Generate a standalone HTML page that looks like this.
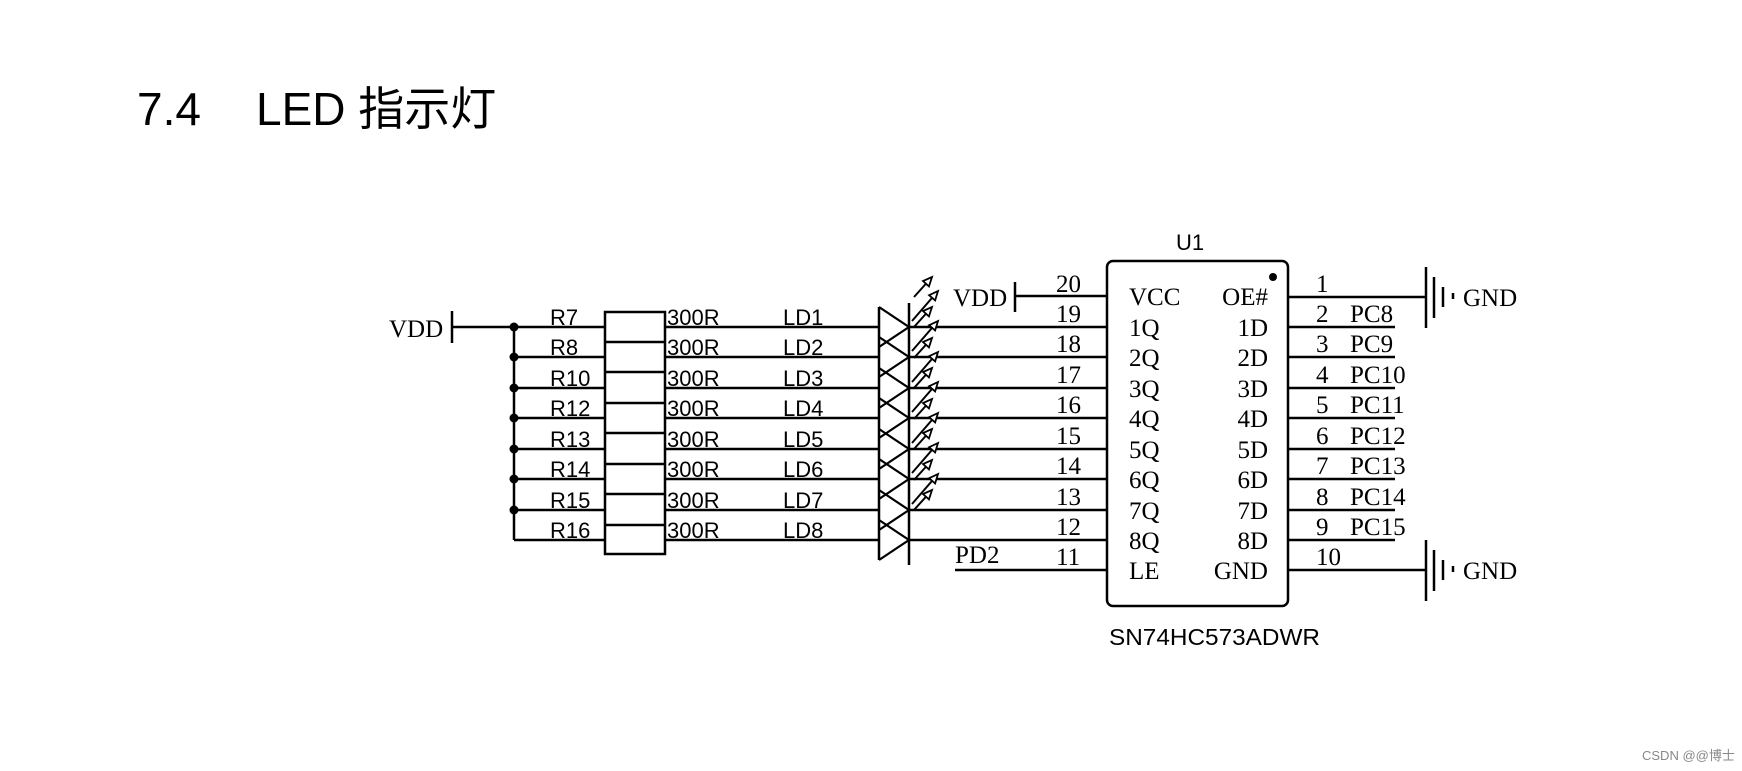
<!DOCTYPE html>
<html><head><meta charset="utf-8"><style>
html,body{margin:0;padding:0;background:#fff;}
svg{display:block;}
.s{font-family:"Liberation Sans",sans-serif;}
.t{font-family:"Liberation Serif",serif;}
</style></head><body>
<svg width="1742" height="771" viewBox="0 0 1742 771" xmlns="http://www.w3.org/2000/svg">
<text x="137" y="125" font-size="46" font-family="Liberation Sans, Noto Sans CJK SC, sans-serif">7.4</text>
<text x="256" y="125" font-size="46" font-family="Liberation Sans, Noto Sans CJK SC, sans-serif">LED 指示灯</text>

<g stroke="#000" stroke-width="2.5" fill="none">
<line x1="452" y1="311" x2="452" y2="343"/>
<line x1="452" y1="327" x2="514" y2="327"/>
<line x1="514" y1="327" x2="514" y2="540"/>
<rect x="605" y="312" width="60" height="242"/>
<line x1="879" y1="307" x2="879" y2="560"/>
<line x1="909" y1="303" x2="909" y2="565"/>
<rect x="1107" y="261" width="181" height="345" rx="6"/>
<line x1="1015" y1="282" x2="1015" y2="312"/>
<line x1="1015" y1="296" x2="1107" y2="296"/>
<line x1="955" y1="570" x2="1107" y2="570"/>
<line x1="1288" y1="297" x2="1426" y2="297"/>
<line x1="1288" y1="570" x2="1426" y2="570"/>
<line x1="1426" y1="267" x2="1426" y2="328"/>
<line x1="1434" y1="277" x2="1434" y2="318"/>
<line x1="1443" y1="287" x2="1443" y2="307"/>
<line x1="1453" y1="293" x2="1453" y2="299"/>
<line x1="1426" y1="540" x2="1426" y2="601"/>
<line x1="1434" y1="550" x2="1434" y2="591"/>
<line x1="1443" y1="560" x2="1443" y2="580"/>
<line x1="1453" y1="566" x2="1453" y2="572"/>
</g>
<circle cx="1273" cy="277" r="4" fill="#000"/>
<g id="rows"></g>

<g class="t" font-size="25" fill="#000">
<text x="389" y="337" font-size="25">VDD</text>
<text x="953" y="306" font-size="25">VDD</text>
<text x="955" y="563" font-size="25">PD2</text>
<text x="1463" y="306" font-size="25">GND</text>
<text x="1463" y="579" font-size="25">GND</text>
<text x="1129" y="305">VCC</text>
<text x="1268" y="305" text-anchor="end">OE#</text>
<text x="1129" y="579">LE</text>
<text x="1268" y="579" text-anchor="end">GND</text>
<text x="1056" y="292">20</text>
<text x="1056" y="565">11</text>
<text x="1316" y="292">1</text>
<text x="1316" y="565">10</text>
</g>
<text x="1190" y="250" font-size="22" class="s" text-anchor="middle">U1</text>
<text x="1109" y="645" font-size="23" class="s" textLength="211" lengthAdjust="spacingAndGlyphs">SN74HC573ADWR</text>
<text x="1642" y="760" font-size="13" fill="#888" font-family="Liberation Sans, Noto Sans CJK SC, sans-serif">CSDN @@博士</text>
</svg>
<script>
(function(){
var g=document.getElementById('rows');var ns='http://www.w3.org/2000/svg';
function el(t,a,txt){var e=document.createElementNS(ns,t);for(var k in a)e.setAttribute(k,a[k]);if(txt)e.textContent=txt;g.appendChild(e);return e;}
var R=['R7','R8','R10','R12','R13','R14','R15','R16'];
var pc=['PC8','PC9','PC10','PC11','PC12','PC13','PC14','PC15'];
var st={stroke:'#000','stroke-width':2.5,fill:'none'};
function L(x1,y1,x2,y2){var a={x1:x1,y1:y1,x2:x2,y2:y2};for(var k in st)a[k]=st[k];el('line',a);}
function arrow(x1,y1,x2,y2){
 var a={x1:x1,y1:y1,x2:x2,y2:y2,stroke:'#000','stroke-width':2};el('line',a);
 var dx=x2-x1,dy=y2-y1,l=Math.sqrt(dx*dx+dy*dy);dx/=l;dy/=l;
 var bx=x2-dx*9,by=y2-dy*9,px=-dy*4,py=dx*4;
 el('polygon',{points:x2+','+y2+' '+(bx+px)+','+(by+py)+' '+(bx-px)+','+(by-py),fill:'#fff',stroke:'#000','stroke-width':1.8});
}
for(var i=0;i<8;i++){
 var y=Math.round(327+30.45*i);
 if(i<7) el('circle',{cx:514,cy:y,r:4.5,fill:'#000'});
 L(514,y,605,y);
 L(665,y,879,y);
 L(909,y,1107,y);
 if(i<7) L(605,y+15,665,y+15);
 el('polyline',{points:'879,'+(y-20)+' 909,'+y+' 879,'+(y+20),stroke:'#000','stroke-width':2.2,fill:'none'});
 if(i<7){arrow(912,y-6,938,y-36);}
 arrow(914,y-30,932,y-50);
 var t=function(x,yy,s,c,sz,anc){var a={x:x,y:yy,'font-size':sz,'class':c};if(anc)a['text-anchor']=anc;el('text',a,s);};
 t(550,y-2,R[i],'s',22);
 t(667,y-2,'300R','s',22);
 t(783,y-2,'LD'+(i+1),'s',22);
 t(1056,y-5,String(19-i),'t',25);
 t(1129,y+9,(i+1)+'Q','t',25);
 t(1268,y+9,(i+1)+'D','t',25,'end');
 L(1288,y,1395,y);
 t(1316,y-5,String(i+2),'t',25);
 t(1350,y-5,pc[i],'t',25);
}
})();
</script>
</body></html>
